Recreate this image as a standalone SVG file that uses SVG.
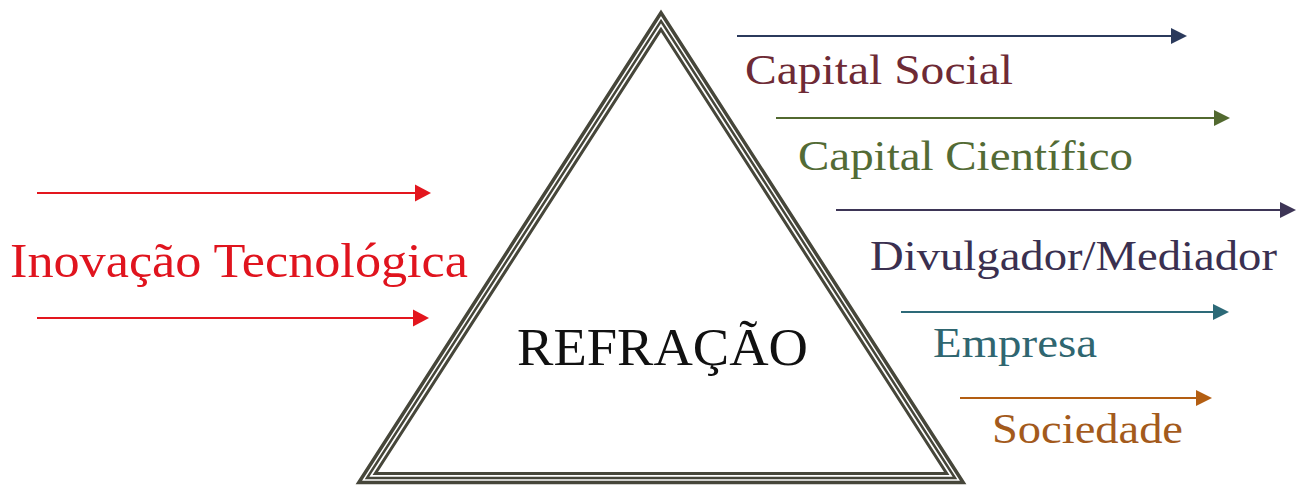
<svg xmlns="http://www.w3.org/2000/svg" width="1303" height="485" viewBox="0 0 1303 485">
<defs>
<style>
.t{font-family:"Liberation Serif","Times New Roman",serif;}
.tri{fill:none;stroke:#46463a;stroke-linejoin:miter;}
.ln{stroke-width:2;fill:none;}
</style>
</defs>
<rect width="1303" height="485" fill="#ffffff"/>
<g id="triangle">
<polygon class="tri" points="661,12.8 358.8,482.5 963.2,482.5" stroke-width="3.5"/>
<polygon class="tri" points="661,21.1 367,478 955,478" stroke-width="2.5"/>
<polygon class="tri" points="661,29.4 375.3,473.5 946.7,473.5" stroke-width="3"/>
<text class="t" x="517" y="365" font-size="52" fill="#111" textLength="291" lengthAdjust="spacingAndGlyphs">REFRAÇÃO</text>
</g>
<g id="connectors">
<line class="ln" x1="37" y1="193" x2="416" y2="193" stroke="#e3161e"/>
<polygon points="431,193 415,184.5 415,201.5" fill="#e3161e"/>
<line class="ln" x1="37" y1="318" x2="414" y2="318" stroke="#e3161e"/>
<polygon points="429,318 413,309.5 413,326.5" fill="#e3161e"/>
<line class="ln" x1="737" y1="36" x2="1172" y2="36" stroke="#2b3a5c"/>
<polygon points="1187,36 1171,28 1171,44" fill="#2b3a5c"/>
<line class="ln" x1="776" y1="118" x2="1215" y2="118" stroke="#52692f"/>
<polygon points="1230,118 1214,110 1214,126" fill="#52692f"/>
<line class="ln" x1="836" y1="210" x2="1281" y2="210" stroke="#3d3556"/>
<polygon points="1296,210 1280,202 1280,218" fill="#3d3556"/>
<line class="ln" x1="901" y1="312" x2="1214" y2="312" stroke="#2d6a78"/>
<polygon points="1229,312 1213,304 1213,320" fill="#2d6a78"/>
<line class="ln" x1="960" y1="398" x2="1197" y2="398" stroke="#b35e12"/>
<polygon points="1212,398 1196,390 1196,406" fill="#b35e12"/>
</g>
<g id="inovacao">
<text class="t" x="10" y="277" font-size="49" fill="#e0141e" textLength="458" lengthAdjust="spacingAndGlyphs">Inovação Tecnológica</text>
</g>
<g id="capital-social">
<text class="t" x="745" y="84" font-size="43" fill="#6e2a35" textLength="268" lengthAdjust="spacingAndGlyphs">Capital Social</text>
</g>
<g id="capital-cientifico">
<text class="t" x="798" y="170" font-size="43" fill="#536b35" textLength="335" lengthAdjust="spacingAndGlyphs">Capital Científico</text>
</g>
<g id="divulgador">
<text class="t" x="870" y="270" font-size="43" fill="#3a3050" textLength="407" lengthAdjust="spacingAndGlyphs">Divulgador/Mediador</text>
</g>
<g id="empresa">
<text class="t" x="933" y="357" font-size="43" fill="#2f6670" textLength="164" lengthAdjust="spacingAndGlyphs">Empresa</text>
</g>
<g id="sociedade">
<text class="t" x="992" y="443" font-size="43" fill="#a35a1c" textLength="191" lengthAdjust="spacingAndGlyphs">Sociedade</text>
</g>
</svg>
